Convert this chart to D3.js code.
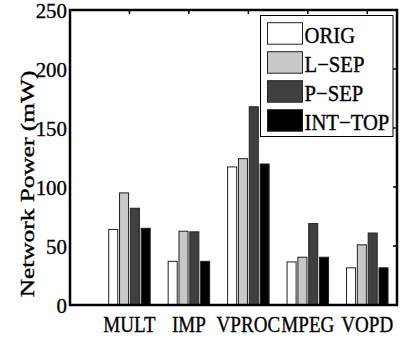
<!DOCTYPE html>
<html><head><meta charset="utf-8">
<script src="https://cdn.jsdelivr.net/npm/d3@7"></script>
<style>body{margin:0;background:#fff}svg{display:block}text{stroke:#000;stroke-width:0.35px}</style>
</head><body>
<script>
const categories = ["MULT","IMP","VPROC","MPEG","VOPD"];
const seriesNames = ["ORIG","L\u2212SEP","P\u2212SEP","INT\u2212TOP"];
const seriesColors = ["#ffffff","#c8c8c8","#404040","#000000"];
const ORIG   = [64, 37, 117, 36.5, 31.5];
const LSEP   = [95, 62.5, 124, 40.5, 51];
const PSEP   = [82, 62, 168, 69, 61];
const INTTOP = [65, 37, 119.5, 40.5, 31.5];
const yTicks = [0, 50, 100, 150, 200, 250];
const series = [ORIG, LSEP, PSEP, INTTOP];

const FONT = "'Liberation Serif', 'Times New Roman', Times, 'DejaVu Serif', serif";
const W = 402, H = 340;
const L = 70, R = 397, T = 10, B = 305;
const svg = d3.select("body").append("svg").attr("width", W).attr("height", H)
  .attr("font-family", FONT);
const x = d3.scaleLinear().domain([0, 5.5]).range([L, R]);
const y = d3.scaleLinear().domain([0, 250]).range([B, T]);

const spacing = 0.182, bw = 0.152;
const g = svg.append("g");
series.forEach((vals, j) => {
  g.selectAll(null).data(vals).enter().append("rect")
    .attr("x", (d, i) => x(i + 1 + (j - 1.5) * spacing - bw / 2))
    .attr("width", x(bw) - x(0))
    .attr("y", d => y(d))
    .attr("height", d => y(0) - y(d))
    .attr("fill", seriesColors[j])
    .attr("stroke", "#222").attr("stroke-width", 1);
});

svg.append("rect").attr("x", L).attr("y", T).attr("width", R - L).attr("height", B - T)
  .attr("fill", "none").attr("stroke", "#000").attr("stroke-width", 2.5);

svg.selectAll(null).data(categories).enter().append("line")
  .attr("x1", (d, i) => x(i + 1)).attr("x2", (d, i) => x(i + 1))
  .attr("y1", T).attr("y2", T + 4).attr("stroke", "#000").attr("stroke-width", 1.5);
svg.selectAll(null).data(yTicks).enter().append("line")
  .attr("x1", R).attr("x2", R - 4)
  .attr("y1", d => y(d)).attr("y2", d => y(d)).attr("stroke", "#000").attr("stroke-width", 1.5);

svg.selectAll(null).data(yTicks).enter().append("text")
  .attr("transform", d => `translate(${L - 3},${y(d) + 8}) scale(0.95,1)`)
  .attr("text-anchor", "end").attr("font-size", 22).text(d => d);

svg.selectAll(null).data(categories).enter().append("text")
  .attr("transform", (d, i) => `translate(${x(i + 1)},${332}) scale(0.84,1)`)
  .attr("text-anchor", "middle").attr("font-size", 22.7).text(d => d);

svg.append("text")
  .attr("transform", `translate(33.5,184) rotate(-90) scale(1.3,1)`)
  .attr("text-anchor", "middle").attr("font-size", 19.5).text("Network Power (mW)");

const lg = svg.append("g");
lg.append("rect").attr("x", 260.5).attr("y", 15.5).attr("width", 132.5).attr("height", 121)
  .attr("fill", "#fff").attr("stroke", "#000").attr("stroke-width", 1);
seriesNames.forEach((name, j) => {
  const ry = 22.7 + j * 29;
  lg.append("rect").attr("x", 267.5).attr("y", ry).attr("width", 35).attr("height", 21.5)
    .attr("fill", seriesColors[j]).attr("stroke", "#222").attr("stroke-width", 1);
  lg.append("text").attr("transform", `translate(304.5,${ry + 19.8}) scale(0.92,1)`)
    .attr("font-size", 22.5).text(name);
});
</script>
</body></html>
